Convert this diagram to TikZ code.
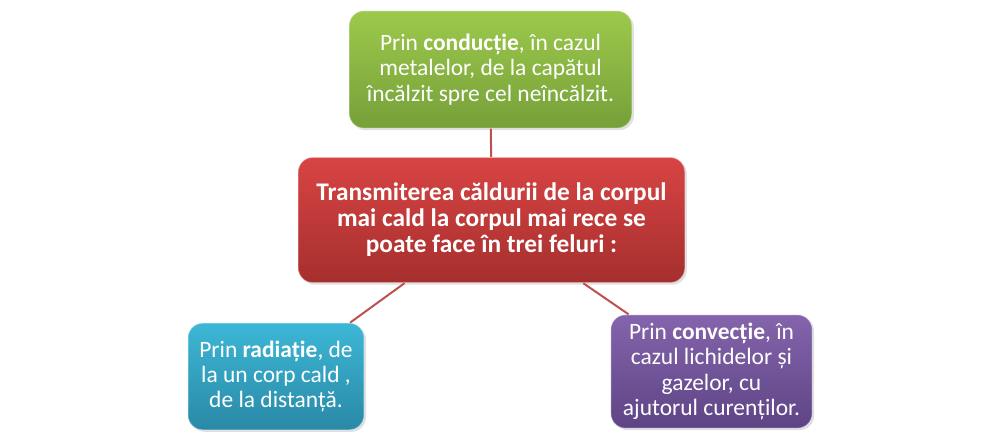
\documentclass[tikz,border=0pt]{standalone}
\usepackage{fontspec}
\setmainfont{Carlito}
\usetikzlibrary{shadows}

\definecolor{linkred}{HTML}{C0504D}
\definecolor{grnTop}{HTML}{9CC94C}
\definecolor{grnBot}{HTML}{76A039}
\definecolor{redTop}{HTML}{D84444}
\definecolor{redBot}{HTML}{A52F2D}
\definecolor{bluTop}{HTML}{3DB7D6}
\definecolor{bluBot}{HTML}{2989A6}
\definecolor{purTop}{HTML}{8464AC}
\definecolor{purBot}{HTML}{5E4485}

\begin{document}
\begin{tikzpicture}[
  x=0.75pt, y=-0.75pt,
  topic/.style={rounded corners=11pt, align=center, text=white, inner sep=2pt,
    font=\fontsize{17.6}{18.9}\selectfont, draw=white, draw opacity=0.35, line width=0.8pt,
    drop shadow={shadow xshift=1.5pt, shadow yshift=-1.5pt, opacity=0.25}},
  link/.style={draw=linkred, line width=1.5pt}
]
\useasboundingbox (0,0) rectangle (1000,442);

\node[topic, top color=redTop, bottom color=redBot, minimum width=290pt, minimum height=94pt,
  font=\fontsize{19}{19.5}\selectfont\bfseries] (center) at (491.5,220)
  {Transmiterea căldurii de la corpul\\ mai cald la corpul mai rece se\\ poate face în trei feluri :};
\node[topic, top color=grnTop, bottom color=grnBot, minimum width=212pt, minimum height=88pt] (cond) at (490.5,69.5)
  {Prin \textbf{conducție}, în cazul\\ metalelor, de la capătul\\ încălzit spre cel neîncălzit.};
\node[topic, top color=bluTop, bottom color=bluBot, minimum width=132pt, minimum height=80pt] (rad) at (276,376.5)
  {Prin \textbf{radiație}, de\\ la un corp cald ,\\ de la distanță.};
\node[topic, top color=purTop, bottom color=purBot, minimum width=151pt, minimum height=85pt] (conv) at (711.5,371.5)
  {Prin \textbf{convecție}, în\\ cazul lichidelor și\\ gazelor, cu\\ ajutorul curenților.};

% links between the boxes
\draw[link] (cond) -- (center);
\draw[link] (center) -- (rad);
\draw[link] (center) -- (conv);
\end{tikzpicture}
\end{document}
